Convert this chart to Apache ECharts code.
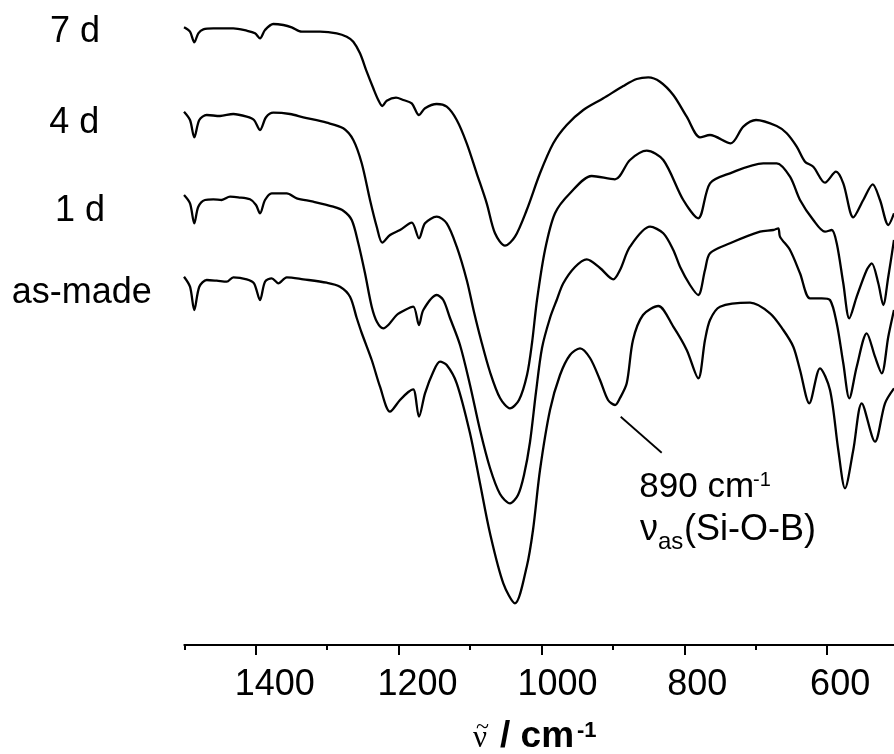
<!DOCTYPE html>
<html>
<head>
<meta charset="utf-8">
<script src="https://cdn.jsdelivr.net/npm/echarts@6/dist/echarts.min.js"></script>
<style>
	html, body { margin: 0; padding: 0; background: #fff; }
	#ir-chart { width: 894px; height: 754px; }
</style>
</head>
<body>
<div id="ir-chart"></div>
<script>
	// wavenumbers (cm-1) and offset transmittance (arb. units)
	const wn7d = [1500.4,1492,1486,1480.4,1473.4,1459.4,1445.4,1431.4,1412.6,1401,1394,1387,1375.4,1361.4,1349.6,1335.6,1310,1286.6,1272.6,1263.4,1254,1244.6,1235.4,1228.4,1222.8,1216.6,1203.6,1193.4,1181.6,1171.4,1163,1146.6,1132.6,1118.6,1104.6,1090.6,1076.6,1065,1051,1037,1020.6,1002,983.4,964.6,941.4,913.4,885.4,866.6,850.4,834,815.4,796.6,778,764,735,717.4,699.6,670.6,656.6,642.6,631,619.4,603,587.6,577.4,563.4,549.4,536.2,526,514.4,506.4];
	const t7d = [617.7,613.3,602.7,611.7,615.7,616.7,616.7,616.7,614.3,611.7,606.7,615,621,620,617.7,613.3,613.3,611.7,608.3,603.3,591.7,573.3,556.7,545,539,544.3,547.3,545,541.7,530,536.7,541,538.3,525,501.7,471.7,441.7,411.7,399.3,408.3,435,471.7,501.7,520,535,546.7,559,566,567.7,563.3,550,528.3,507.7,510,501.7,518.3,525,519,511.7,498.3,483.3,478.3,462.3,473.3,461.7,427.7,445,460.7,445,420,431.7];

	const wn4d = [1500.4,1492,1486,1479,1468.6,1450,1431.4,1412.6,1402.4,1394,1385.6,1375.4,1352,1333.4,1300.6,1277.4,1263.4,1251.6,1240,1230.6,1222.8,1212,1198,1181.6,1171.4,1163,1146.6,1132.6,1118.6,1104.6,1094.4,1084.6,1072,1058,1044,1031.4,1020.2,1013.2,1006.2,995,981,960,929.6,897,876,852.6,829.4,801.4,780.4,764,736,689.4,670.6,652,638,619.4,603,593.6,586.6,577.4,569,558.6,544.6,537.6,528.4,521.4,514.4,506.4];
	const t4d = [533.3,525,507.7,525,530,529,531,528.3,525,515,527.7,532.3,531,527.7,522.3,516.7,505,481.7,445,418.3,402.3,410,415,422.3,406.7,421.7,428.3,421.7,398.3,365,333,305,273,247,236.7,245,270,302,345,395,431.7,451.7,469,465.7,485,494.3,485,445,426.7,461.7,471.7,481.7,481.7,468.3,445,425,413.3,415,401.7,361.7,326.7,348.3,375,381.7,361.7,340,368.3,405];

	const wn1d = [1500.4,1492,1486,1480.4,1471,1459.4,1447.6,1436,1424.4,1408,1399.6,1394,1387,1377.6,1356.6,1342.6,1319.4,1291.4,1277.4,1265.6,1256.4,1247,1237.6,1230.2,1221.4,1214.4,1202.6,1191,1179.4,1171.4,1165.4,1146.6,1137.4,1128,1114,1100,1086,1072,1058,1044,1032.8,1024.4,1016,1007.6,999.2,988,978.6,969.4,953,936.6,918,899.4,890,876,848,829.4,815.4,806,792,780.4,771,764,736,694,675.4,668.4,666,652,638,624,607.6,596,586.6,577.4,569,558.6,544.6,533,523.6,514.4,506.4];
	const t1d = [450,441.7,421.7,438.3,445,445.7,445,448.3,447.7,445.7,440,431.7,445,451.7,451.7,446.7,443.3,438.3,434.3,425,401.7,371.7,338.3,323,316.7,320,330,335,338.3,320,335,350,345,327,300,260,215,177,151,141.7,150,170,203,253,297,327,345,361.7,378,385.7,377,365.7,375,398.3,418.3,411.7,395,378.3,360,350,375,391.7,401.7,413.3,415,416.7,408.3,395,371.7,346.7,346.7,345,321.7,281.7,246.7,278.3,311.7,288.3,271.7,308.3,335];

	const wnAsMade = [1500.4,1492,1486,1479,1468.6,1454.6,1440.6,1431.4,1412.6,1402.4,1394,1387,1377.6,1368.4,1356.6,1333.4,1300.6,1282,1268,1258.6,1251.6,1237.6,1226,1212,1198,1186.4,1179.4,1171.4,1163,1151.4,1142,1132.6,1118.6,1100,1086,1072,1053.4,1037,1020.6,1011.8,1002,988,974,960,946,932,918,906.8,897,890,880.6,871.8,857.8,836.4,815.4,796.6,780.4,771,764,750,708,680,661.4,647.4,638,625,610,596,584.4,575,563.4,551.6,533,519,506.4];
	const tAsMade = [368.3,358.3,335,358.3,365,364.3,363.3,367.7,365.7,361.7,345,363.3,366.7,361.7,367.7,365.7,362.3,358.3,348.3,327,312,285,258.3,233.3,245,253,255.7,228.3,251.7,273.3,283.3,280,261.7,211.7,161.7,111.7,61.7,41.7,78.3,115,175,235,270,290,296.7,287,265,245,240,247,261.7,305,330,339,318.3,295,266.7,305,325,338.3,342.3,331.7,315,298.3,275,241.7,276.7,255,195,156.7,195,241.7,203.3,241.7,256.7];

	const sampleNames = ['7 d', '4 d', '1 d', 'as-made'];
	const tickValues = [1400, 1200, 1000, 800, 600];

	const FONT = 'Liberation Sans, Arial, Helvetica, sans-serif';
	const SERIF = 'Liberation Serif, DejaVu Serif, serif';
	// the printed tick labels sit a little right of their ticks
	const labelShift = { 1400: 19, 1200: 19, 1000: 16, 800: 13, 600: 13 };

	function pairs(xs, ys) {
		let arr = [];
		xs.map((x, i) => {
			arr.push([x, ys[i]]);
		});
		return arr;
	}

	function lineSeries(name, xs, ys) {
		return {
			name: name,
			type: 'line',
			xAxisIndex: 0,
			yAxisIndex: 0,
			showSymbol: false,
			smooth: 0.3,
			lineStyle: { color: '#000', width: 2.3, join: 'round' },
			data: pairs(xs, ys)
		};
	}

	function txt(text, x, y, size, opts) {
		return {
			type: 'text',
			x: x,
			y: y,
			style: Object.assign({
				text: text,
				fill: '#000',
				fontSize: size,
				fontFamily: FONT,
				align: 'left',
				verticalAlign: 'middle'
			}, opts || {})
		};
	}

	let rich = {};
	Object.keys(labelShift).forEach(k => {
		rich['s' + k] = {
			fontSize: 36,
			fontFamily: FONT,
			color: '#000',
			padding: [0, 0, 0, labelShift[k] * 2]
		};
	});

	const chart = echarts.init(document.getElementById('ir-chart'));
	// 1500 cm-1 sits at x = 184.3 px, 0.7143 px per cm-1; the axis runs on past the right edge
	const option = {
		animation: false,
		backgroundColor: '#fff',
		grid: [
			{ left: 184.3, top: 0, width: 785.7, height: 645, outerBoundsMode: 'none', containLabel: false },
			{ left: 255.7, top: 0, width: 714.3, height: 645, outerBoundsMode: 'none', containLabel: false }
		],
		xAxis: [{
			type: 'value',
			gridIndex: 0,
			inverse: true,
			min: 400,
			max: 1500,
			interval: 100,
			position: 'bottom',
			axisLine: { onZero: false, lineStyle: { color: '#000', width: 2 } },
			axisTick: { length: 5, lineStyle: { color: '#000', width: 2 } },
			axisLabel: { show: false },
			splitLine: { show: false }
		}, {
			type: 'value',
			gridIndex: 1,
			inverse: true,
			min: 400,
			max: 1400,
			interval: 200,
			position: 'bottom',
			axisLine: { show: false, onZero: false },
			axisTick: { length: 10, lineStyle: { color: '#000', width: 2 } },
			axisLabel: {
				margin: 22,
				fontSize: 36,
				fontFamily: FONT,
				color: '#000',
				formatter: v => tickValues.indexOf(v) >= 0 ? '{s' + v + '|' + v + '}' : '',
				rich: rich
			},
			splitLine: { show: false }
		}],
		yAxis: [
			{ type: 'value', gridIndex: 0, min: 0, max: 645, show: false },
			{ type: 'value', gridIndex: 1, min: 0, max: 645, show: false }
		],
		series: [
			lineSeries(sampleNames[0], wn7d, t7d),
			lineSeries(sampleNames[1], wn4d, t4d),
			lineSeries(sampleNames[2], wn1d, t1d),
			lineSeries(sampleNames[3], wnAsMade, tAsMade)
		],
		graphic: [
			txt(sampleNames[0], 50, 32.5, 36),
			txt(sampleNames[1], 49.3, 122.7, 36),
			txt(sampleNames[2], 55, 210.7, 36),
			txt(sampleNames[3], 11.7, 293.4, 36),
			// 890 cm-1 annotation
			{
				type: 'line',
				shape: { x1: 620.7, y1: 416.7, x2: 661.7, y2: 452.7 },
				style: { stroke: '#000', lineWidth: 1.8 }
			},
			txt('890 cm', 639.3, 487.1, 35),
			txt('-1', 753, 480.8, 20),
			txt('\u03bd', 640, 529.8, 36),
			txt('as', 658, 542.6, 24),
			txt('(Si-O-B)', 684, 529.8, 36),
			// x axis title: nu with a tilde on top, then "/ cm-1"
			txt('\u03bd', 473, 739, 31, { fontFamily: SERIF }),
			txt('~', 476, 728, 24, { fontFamily: SERIF }),
			txt('/ cm', 500, 736.5, 37, { fontWeight: 'bold' }),
			txt('-1', 577, 731, 22, { fontWeight: 'bold' })
		]
	};
	chart.setOption(option);
	window.addEventListener('resize', function() {
		chart.resize();
	});
</script>
</body>
</html>
